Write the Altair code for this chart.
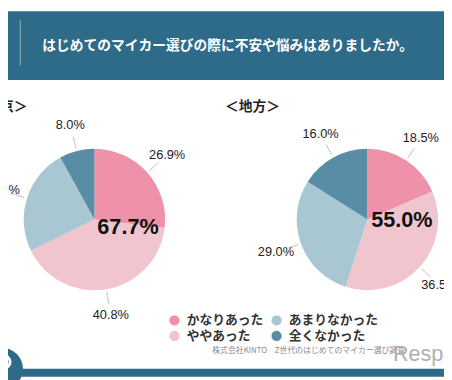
import math
import altair as alt
import pandas as pd

# ---- data ----
categories = ["かなりあった", "ややあった", "あまりなかった", "全くなかった"]
tokyo_values = [26.9, 40.8, 24.3, 8.0]
chiho_values = [18.5, 36.5, 29.0, 16.0]
region_names = ["東京", "地方"]
region_titles = ["＜東京＞", "＜地方＞"]
center_labels = ["67.7%", "55.0%"]
title_text = "はじめてのマイカー選びの際に不安や悩みはありましたか。"
source_text = "株式会社KINTO　Z世代のはじめてのマイカー選び調査"
watermark_text = "Response"

colors = ["#EF91A8", "#F1C5CD", "#A9C7D3", "#598CA5"]

rows = []
for reg, vals in zip(region_names, [tokyo_values, chiho_values]):
    for i, (c, v) in enumerate(zip(categories, vals)):
        rows.append({"region": reg, "cat": c, "order": i, "value": v})
df = pd.DataFrame(rows)

W, H = 444, 372
HEADER = "#2E6B89"
JP = "Noto Sans CJK JP"
NUM = "Liberation Sans"

tscale = alt.Scale(domain=[0, 100], range=[0, 2 * math.pi])
cscale = alt.Scale(domain=categories, range=colors)

one = pd.DataFrame({"k": [0]})


def pie(region, cx, cy, big, bx, by):
    base = alt.Chart(df).transform_filter(
        alt.datum.region == region
    ).transform_window(
        cum="sum(value)", sort=[alt.SortField("order")], frame=[None, 0]
    ).transform_calculate(
        start="datum.cum - datum.value",
        mid="datum.cum - datum.value / 2",
        label="format(datum.value, '.1f') + '%'",
    )
    arcs = base.mark_arc(outerRadius=72).encode(
        theta=alt.Theta("start:Q", scale=tscale),
        theta2="cum:Q",
        color=alt.Color("cat:N", scale=cscale, legend=alt.Legend(
            title=None, orient="none", legendX=163, legendY=308, columns=2,
            symbolType="circle", symbolSize=110, symbolStrokeWidth=0,
            labelFont=JP, labelFontSize=13, labelFontWeight="bold",
            labelColor="#333333", columnPadding=6, rowPadding=2,
            labelOffset=6, labelLimit=200)),
        x=alt.value(cx), y=alt.value(cy),
    )
    leaders = base.mark_arc(innerRadius=75, outerRadius=87, stroke="#cfcfcf",
                            strokeWidth=1, fillOpacity=0).encode(
        theta=alt.Theta("mid:Q", scale=tscale), theta2="mid:Q",
        x=alt.value(cx), y=alt.value(cy),
    )
    labels = base.mark_text(radius=99, font=NUM, fontSize=13, color="#222222").encode(
        theta=alt.Theta("mid:Q", scale=tscale),
        text="label:N",
        x=alt.value(cx), y=alt.value(cy),
    )
    bigtext = alt.Chart(one).mark_text(
        font=NUM, fontSize=22, fontWeight="bold", color="#111111", align="left"
    ).encode(x=alt.value(bx), y=alt.value(by), text=alt.value(big))
    return [leaders, arcs, labels, bigtext]


def rect(x, x2, y, y2, color):
    return alt.Chart(one).mark_rect(color=color).encode(
        x=alt.value(x), x2=alt.value(x2), y=alt.value(y), y2=alt.value(y2))


def txt(s, x, y, size, color, font=JP, weight="bold", align="left"):
    return alt.Chart(one).mark_text(
        font=font, fontSize=size, fontWeight=weight, color=color, align=align,
        baseline="middle").encode(x=alt.value(x), y=alt.value(y), text=alt.value(s))


header = rect(0, W, 0, 70, HEADER)
vline = alt.Chart(one).mark_rule(color="#9DB6C4", strokeWidth=1).encode(
    x=alt.value(12.5), y=alt.value(9), y2=alt.value(55))
title = txt(title_text, 35, 35, 14, "#FFFFFF")
sub1 = txt(region_titles[0], -36, 97, 14, "#222222")
sub2 = txt(region_titles[1], 221, 97, 14, "#222222")
source = txt(source_text, 208, 346, 8, "#8a8a8a", weight="normal")
water = txt(watermark_text, 392, 349, 22, "#b0b0b0", font=NUM, weight="normal")
footer = rect(0, W, 364, H, HEADER)
logo = alt.Chart(one).mark_point(filled=True, shape="circle", size=1800,
                                 color=HEADER, opacity=1).encode(
    x=alt.value(-6), y=alt.value(364))
ring = alt.Chart(one).mark_point(filled=False, shape="circle", size=150,
                                 color="#FFFFFF", strokeWidth=3, opacity=1).encode(
    x=alt.value(-4), y=alt.value(357))

layers = [header, vline, title, sub1, sub2, source, water, footer, logo, ring]
layers += pie("東京", 88, 212, center_labels[0], 91, 220)
layers += pie("地方", 366, 212, center_labels[1], 370, 213)

chart = alt.layer(*layers).properties(
    width=W, height=H, padding=0, background="#FFFFFF",
    autosize=alt.AutoSizeParams(type="none"),
).configure_view(stroke=None)

chart.save("out.html", embed_options={"renderer": "svg", "actions": False})
